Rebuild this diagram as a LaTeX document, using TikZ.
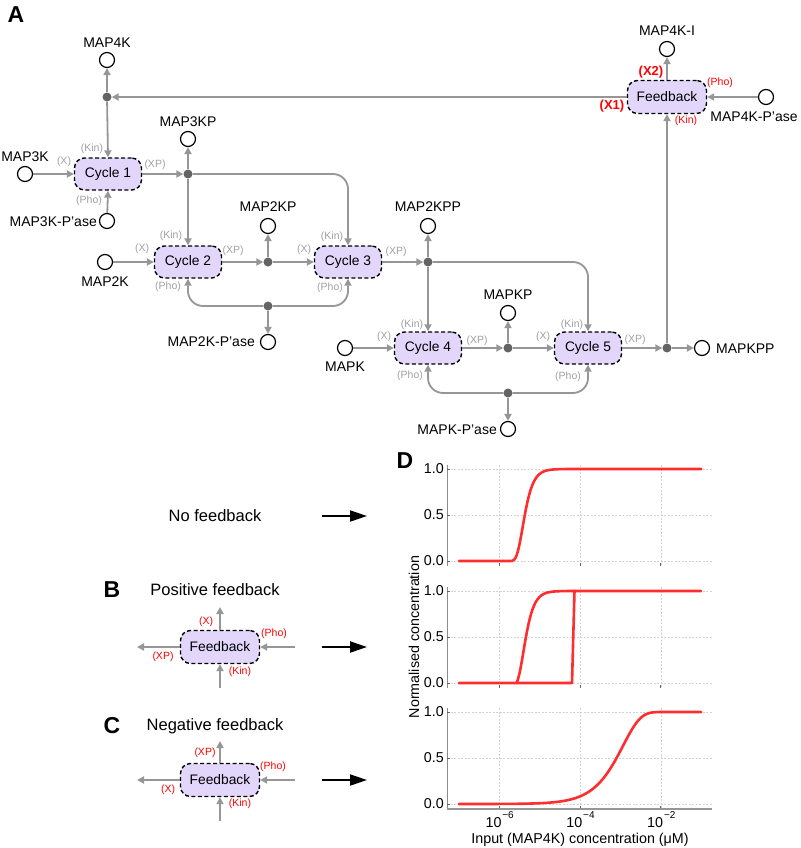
\documentclass[tikz,border=0pt]{standalone}
\usepackage{fontspec}
\setmainfont{Liberation Sans}
\usetikzlibrary{arrows.meta}
\definecolor{lav}{RGB}{226,214,250}
\definecolor{lgray}{RGB}{150,150,150}
\definecolor{dgray}{RGB}{100,100,100}
\definecolor{tgray}{RGB}{160,160,160}
\definecolor{pred}{RGB}{255,45,45}
\definecolor{gridc}{RGB}{210,210,210}
\definecolor{axc}{RGB}{140,140,140}
\begin{document}
\begin{tikzpicture}[x=1pt,y=-1pt,
  cyc/.style={draw=black, dash pattern=on 4pt off 2.5pt, line width=1.4pt, fill=lav, rounded corners=10pt, minimum width=67pt, minimum height=32pt, inner sep=0pt, font=\fontsize{13.8}{16}\selectfont},
  fbox/.style={cyc, minimum width=79pt, minimum height=33pt},
  spec/.style={circle, draw=black, line width=1.2pt, minimum size=15pt, inner sep=0pt, fill=white},
  dot/.style={circle, fill=dgray, minimum size=9pt, inner sep=0pt},
  lbl/.style={font=\fontsize{14}{16}\selectfont, inner sep=0pt},
  title/.style={font=\fontsize{16.5}{19}\selectfont, inner sep=0pt},
  sm/.style={font=\fontsize{10.5}{12}\selectfont, text=tgray, inner sep=0pt},
  smr/.style={font=\fontsize{10.5}{12}\selectfont, text=red, inner sep=0pt},
  bigr/.style={font=\fontsize{13}{15}\selectfont\bfseries, text=red, inner sep=0pt},
  conn/.style={draw=lgray, line width=1.8pt, -{Triangle[length=7pt,width=7pt]}},
  bendc/.style={conn, rounded corners=15pt},
  blk/.style={draw=black, line width=2pt, -{Triangle[length=17pt,width=11pt]}},
  panel/.style={font=\fontsize{23}{25}\selectfont\bfseries, inner sep=0pt},
  gridl/.style={draw=gridc, line width=0.6pt, dash pattern=on 2pt off 1.5pt},
  spine/.style={draw=axc, line width=0.8pt},
  curve/.style={draw=pred, line width=2.6pt, line cap=round, line join=round},
  tick/.style={font=\fontsize{14.3}{16}\selectfont, inner sep=0pt}
]
\useasboundingbox (0,0) rectangle (800,848);

% ---------------- Panel A ----------------
\node[panel] (pA) at (16,15) {A};

\node[cyc] (cyc1) at (108,174) {Cycle 1};
\node[cyc] (cyc2) at (188,262) {Cycle 2};
\node[cyc] (cyc3) at (348,262) {Cycle 3};
\node[cyc] (cyc4) at (428,348) {Cycle 4};
\node[cyc] (cyc5) at (588,348) {Cycle 5};
\node[fbox] (fb) at (667,97) {Feedback};

\node[spec] (m4k) at (107,60) {};
\node[spec] (m4ki) at (667,49) {};
\node[spec] (m4kp) at (766,97) {};
\node[spec] (m3k) at (25,174) {};
\node[spec] (p3) at (107,221) {};
\node[spec] (m3kp) at (188,139) {};
\node[spec] (m2k) at (105,262) {};
\node[spec] (m2kp) at (268,226) {};
\node[spec] (m2kpp) at (428,226) {};
\node[spec] (p2) at (268,342) {};
\node[spec] (mk) at (345,348) {};
\node[spec] (mkp) at (508,313) {};
\node[spec] (pk) at (508,429) {};
\node[spec] (mkpp) at (702,348) {};

\node[dot] (J1) at (107,97) {};
\node[dot] (J2) at (188,174) {};
\node[dot] (J3) at (268,262) {};
\node[dot] (J4) at (428,262) {};
\node[dot] (J5) at (268,306) {};
\node[dot] (J6) at (508,348) {};
\node[dot] (J7) at (667,348) {};
\node[dot] (J8) at (508,393) {};

% species labels
\node[lbl] (Lm4k) at (107,43) {MAP4K};
\node[lbl] (Lm4ki) at (667,31) {MAP4K-I};
\node[lbl] (Lm4kp) at (754,117) {MAP4K-P'ase};
\node[lbl] (Lm3k) at (25,157) {MAP3K};
\node[lbl, anchor=east] (Lp3) at (97,222) {MAP3K-P'ase};
\node[lbl] (Lm3kp) at (188,122) {MAP3KP};
\node[lbl] (Lm2k) at (105,282) {MAP2K};
\node[lbl] (Lm2kp) at (268,207) {MAP2KP};
\node[lbl] (Lm2kpp) at (428,207) {MAP2KPP};
\node[lbl, anchor=east] (Lp2) at (255,342) {MAP2K-P'ase};
\node[lbl] (Lmk) at (345,367) {MAPK};
\node[lbl] (Lmkp) at (508,295) {MAPKP};
\node[lbl, anchor=east] (Lpk) at (497,430) {MAPK-P'ase};
\node[lbl, anchor=west] (Lmkpp) at (716,349) {MAPKPP};

% port labels
\node[sm] (c1x) at (64,162) {(X)};
\node[sm] (c1k) at (92,149) {(Kin)};
\node[sm] (c1xp) at (155,165) {(XP)};
\node[sm] (c1p) at (89,201) {(Pho)};
\node[sm] (c2x) at (142,249) {(X)};
\node[sm] (c2k) at (171,236) {(Kin)};
\node[sm] (c2xp) at (233,251) {(XP)};
\node[sm] (c2p) at (168,287) {(Pho)};
\node[sm] (c3x) at (304,250) {(X)};
\node[sm] (c3k) at (332,237) {(Kin)};
\node[sm] (c3xp) at (396,252) {(XP)};
\node[sm] (c3p) at (330,288) {(Pho)};
\node[sm] (c4x) at (384,337) {(X)};
\node[sm] (c4k) at (412,325) {(Kin)};
\node[sm] (c4xp) at (477,341) {(XP)};
\node[sm] (c4p) at (410,376) {(Pho)};
\node[sm] (c5x) at (543,337) {(X)};
\node[sm] (c5k) at (572,325) {(Kin)};
\node[sm] (c5xp) at (635,340) {(XP)};
\node[sm] (c5p) at (568,377) {(Pho)};
\node[bigr] (fx2) at (651,72) {(X2)};
\node[bigr] (fx1) at (612,106) {(X1)};
\node[smr] (fpho) at (720,83) {(Pho)};
\node[smr] (fkin) at (686,121) {(Kin)};

% connectors
\draw[conn] (fb.west) -- (J1);
\draw[conn] (J1) -- (m4k);
\draw[conn] (J1) -- (cyc1.north);
\draw[conn] (m3k) -- (cyc1.west);
\draw[conn] (p3) -- (cyc1.south);
\draw[conn] (cyc1.east) -- (J2);
\draw[conn] (J2) -- (m3kp);
\draw[conn] (J2) -- (cyc2.north);
\draw[bendc] (J2) -| (cyc3.north);
\draw[conn] (m2k) -- (cyc2.west);
\draw[conn] (cyc2.east) -- (J3);
\draw[conn] (J3) -- (m2kp);
\draw[conn] (J3) -- (cyc3.west);
\draw[bendc] (J5) -| (cyc2.south);
\draw[bendc] (J5) -| (cyc3.south);
\draw[conn] (J5) -- (p2);
\draw[conn] (cyc3.east) -- (J4);
\draw[conn] (J4) -- (m2kpp);
\draw[conn] (J4) -- (cyc4.north);
\draw[bendc] (J4) -| (cyc5.north);
\draw[conn] (mk) -- (cyc4.west);
\draw[conn] (cyc4.east) -- (J6);
\draw[conn] (J6) -- (mkp);
\draw[conn] (J6) -- (cyc5.west);
\draw[bendc] (J8) -| (cyc4.south);
\draw[bendc] (J8) -| (cyc5.south);
\draw[conn] (J8) -- (pk);
\draw[conn] (cyc5.east) -- (J7);
\draw[conn] (J7) -- (mkpp);
\draw[conn] (J7) -- (fb.south);
\draw[conn] (fb.north) -- (m4ki);
\draw[conn] (m4kp) -- (fb.east);

% ---------------- Panels B, C ----------------
\node[title] (tN) at (215,516) {No feedback};
\node[panel] (pB) at (112,590) {B};
\node[title] (tB) at (215,590) {Positive feedback};
\node[panel] (pC) at (112,726) {C};
\node[title] (tC) at (215,726) {Negative feedback};

\node[fbox] (fbB) at (220,647) {Feedback};
\coordinate (Bt) at (220,607);
\coordinate (Bl) at (137,647);
\coordinate (Br) at (295,647);
\coordinate (Bb) at (220,688);
\draw[conn] (fbB.north) -- (Bt);
\draw[conn] (fbB.west) -- (Bl);
\draw[conn] (Br) -- (fbB.east);
\draw[conn] (Bb) -- (fbB.south);
\node[smr] (bx) at (206,622) {(X)};
\node[smr] (bpho) at (274,634) {(Pho)};
\node[smr] (bxp) at (163,657) {(XP)};
\node[smr] (bkin) at (240,672) {(Kin)};

\node[fbox] (fbC) at (220,780) {Feedback};
\coordinate (Ct) at (220,741);
\coordinate (Cl) at (137,780);
\coordinate (Cr) at (295,780);
\coordinate (Cb) at (220,821);
\draw[conn] (fbC.north) -- (Ct);
\draw[conn] (fbC.west) -- (Cl);
\draw[conn] (Cr) -- (fbC.east);
\draw[conn] (Cb) -- (fbC.south);
\node[smr] (cxp) at (205,753) {(XP)};
\node[smr] (cpho) at (273,767) {(Pho)};
\node[smr] (cx) at (168,790) {(X)};
\node[smr] (ckin) at (240,804) {(Kin)};

\coordinate (a1s) at (322,516); \coordinate (a1e) at (367,516);
\coordinate (a2s) at (322,647); \coordinate (a2e) at (367,647);
\coordinate (a3s) at (322,780); \coordinate (a3e) at (367,780);
\draw[blk] (a1s) -- (a1e);
\draw[blk] (a2s) -- (a2e);
\draw[blk] (a3s) -- (a3e);

% ---------------- Panel D ----------------
\node[panel] (pD) at (405,461) {D};
\foreach \yz/\ym/\yo/\nm in {561/515/469/t, 683/637/591/m, 804/758/712/b}{
  \draw[gridl] (447,\yo) -- (712,\yo);
  \draw[gridl] (447,\ym) -- (712,\ym);
  \draw[gridl] (447,\yz) -- (712,\yz);
  \foreach \xx in {499.2,580,660.8}{
    \draw[gridl] (\xx,\yo-4) -- (\xx,\yz+4);
    \draw[draw=dgray, line width=0.8pt] (\xx,\yz+5) -- (\xx,\yz+2);
  }
  \draw[spine] (447,\yo-4) -- (447,\yz+5);
  \draw[draw=dgray, line width=0.8pt] (447,\yo) -- (450,\yo);
  \draw[draw=dgray, line width=0.8pt] (447,\ym) -- (450,\ym);
  \draw[draw=dgray, line width=0.8pt] (447,\yz) -- (450,\yz);
  \node[tick, anchor=east] (ya\nm) at (444,\yo) {1.0};
  \node[tick, anchor=east] (yb\nm) at (444,\ym) {0.5};
  \node[tick, anchor=east] (yc\nm) at (444,\yz) {0.0};
}
\draw[draw=lgray, line width=1.8pt] (447,809) -- (712,809);
\foreach \e/\xx in {6/499.2, 4/580, 2/660.8}{
  \node[tick, anchor=base east] (xl\e) at (\xx+2.5,827) {10};
  \node[font=\fontsize{10}{11}\selectfont, inner sep=0pt, anchor=base west] (xs\e) at (\xx+3,818) {−\e};
}
\node[tick] (xlab) at (580,840) {Input (MAP4K) concentration (μM)};
\node[tick, rotate=90] (ylab) at (414,637) {Normalised concentration};

% curves
\draw[curve] plot[domain=-7:-1, samples=160, variable=\u]
  ({580+40.4*(\u+4)}, {561-92*exp(-min(9,exp(max(-9,min(5,-6.87*(\u+5.42))))))});
\draw[curve] ({580+40.4*(-3)},683) -- (572,683) -- (574.5,591);
\draw[curve] plot[domain=-5.57:-1, samples=140, variable=\u]
  ({580+40.4*(\u+4)}, {683-92*(exp(-min(9,exp(max(-9,min(5,-6.87*(\u+5.40))))))-0.0401)/0.9599});
\draw[curve] plot[domain=-7:-1, samples=160, variable=\u]
  ({580+40.4*(\u+4)}, {804-92*(1-exp(-exp(max(-9,min(5,2.297*(\u+2.936))))))});
\end{tikzpicture}
\end{document}
